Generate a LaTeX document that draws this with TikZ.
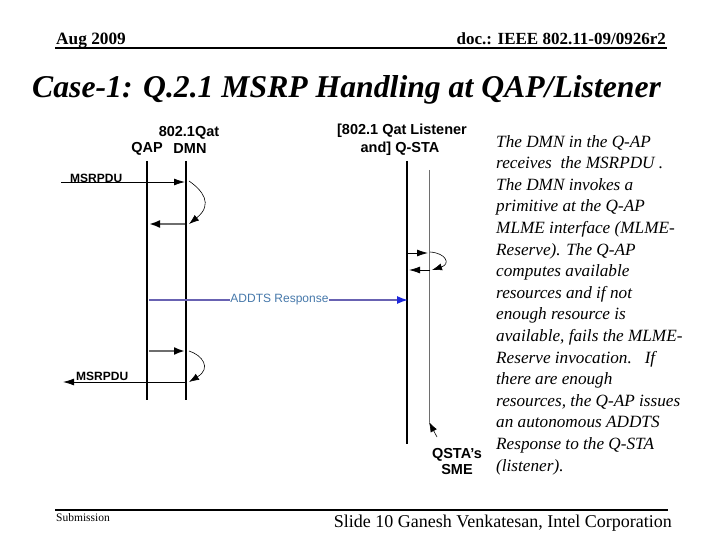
\documentclass[tikz,border=0pt]{standalone}
\usepackage{fontspec}
\setmainfont{Liberation Serif}
\newfontfamily\arialf{Liberation Sans}
\usetikzlibrary{arrows.meta}
\definecolor{addtsline}{RGB}{104,98,178}
\definecolor{addtstext}{RGB}{70,120,170}
\definecolor{addtshead}{RGB}{30,40,220}
\definecolor{msggray}{RGB}{110,110,110}
\tikzset{
  lbl/.style={font=\arialf\bfseries\fontsize{14.5}{15.5}\selectfont, inner sep=0pt, align=center},
  msglbl/.style={font=\arialf\bfseries\fontsize{12}{13}\selectfont, inner sep=0pt, anchor=south west},
  lifethin/.style={line width=1.2pt},
  lifethick/.style={line width=2.4pt},
  lifegray/.style={line width=1pt, draw=msggray},
  msg/.style={line width=0.8pt, -{Latex[length=11pt,width=7pt]}},
  msgg/.style={line width=2pt, draw=msggray, -{Latex[length=11pt,width=8pt,color=black,fill=black]}},
  loop/.style={line width=0.6pt, -{Latex[length=10pt,width=7pt]}},
  body/.style={font=\itshape\fontsize{17.2}{21.6}\selectfont, align=left, inner sep=0pt, anchor=north west},
}
\begin{document}
\begin{tikzpicture}[x=1pt,y=-1pt]
\useasboundingbox (0,0) rectangle (720,540);
% header
\node[anchor=base west, inner sep=0pt, font=\bfseries\fontsize{17.3}{18}\selectfont] (date) at (56,45) {Aug 2009};
\node[anchor=base east, inner sep=0pt, font=\bfseries\fontsize{17}{18}\selectfont] (doc) at (666,45) {doc.: IEEE 802.11-09/0926r2};
\coordinate (hl) at (55,48.5); \coordinate (hr) at (667,48.5);
\draw[line width=2pt] (hl) -- (hr);
\node[anchor=base west, inner sep=0pt, font=\bfseries\itshape\fontsize{31.7}{33}\selectfont] (title) at (32,98) {Case-1: Q.2.1 MSRP Handling at QAP/Listener};
% footer
\coordinate (fl) at (55,510); \coordinate (fr) at (668,510);
\draw[line width=1.6pt] (fl) -- (fr);
\node[anchor=base west, inner sep=0pt, font=\fontsize{11.5}{12}\selectfont] (sub) at (56,521) {Submission};
\node[anchor=base east, inner sep=0pt, font=\fontsize{18}{20}\selectfont] (slide) at (672,527) {Slide 10 Ganesh Venkatesan, Intel Corporation};
% lifeline labels
\node[lbl] (qat) at (189,133) {802.1Qat};
\node[lbl] (qapl) at (147,149) {QAP};
\node[lbl] (dmnl) at (190,149) {DMN};
\node[lbl] (lis) at (402,131) {[802.1 Qat Listener};
\node[lbl] (qsta) at (400,149) {and] Q-STA};
% lifelines
\coordinate (qapT) at (147,161); \coordinate (qapB) at (147,400);
\coordinate (dmnT) at (186,161); \coordinate (dmnB) at (186,400);
\coordinate (staT) at (407,161); \coordinate (staB) at (407,444);
\coordinate (smeT) at (429,170); \coordinate (smeB) at (429,422);
\draw[lifethin] (qapT) -- (qapB);
\draw[lifethick] (dmnT) -- (dmnB);
\draw[lifethin] (staT) -- (staB);
\draw[lifegray] (smeT) -- (smeB);
% top MSRPDU
\coordinate (m1s) at (61,182); \coordinate (m1e) at (185,182);
\draw[msg] (m1s) -- (m1e);
\node[msglbl] (m1l) at (70,182.5) {MSRPDU};
\coordinate (c1s) at (189,181); \coordinate (c1e) at (189,224);
\draw[loop] (c1s) .. controls (202,190) and (214,204) .. (c1e);
\coordinate (g1s) at (185,224); \coordinate (g1e) at (149,224);
\draw[msgg] (g1s) -- (g1e);
% Q-STA side
\coordinate (s1s) at (408,253); \coordinate (s1e) at (428,253);
\draw[msg] (s1s) -- (s1e);
\coordinate (c2s) at (430,252); \coordinate (c2e) at (432,270);
\draw[loop] (c2s) .. controls (446,253) and (451,264) .. (c2e);
\coordinate (s2s) at (430,270); \coordinate (s2e) at (409,270);
\draw[msg] (s2s) -- (s2e);
% ADDTS response
\node[font=\arialf\fontsize{12}{13}\selectfont, text=addtstext, inner sep=0pt] (addts) at (279.5,300) {ADDTS Response};
\coordinate (a1) at (149,300); \coordinate (a2) at (408,300);
\draw[line width=1.3pt, draw=addtsline] (a1) -- (addts.west);
\draw[line width=1.3pt, draw=addtsline, -{Latex[length=11pt,width=8pt,color=addtshead,fill=addtshead]}] (addts.east) -- (a2);
% lower left
\coordinate (g2s) at (149,351); \coordinate (g2e) at (185,351);
\draw[msgg] (g2s) -- (g2e);
\coordinate (c3s) at (189,351); \coordinate (c3e) at (189,382);
\draw[loop] (c3s) .. controls (202,355) and (212,368) .. (c3e);
\coordinate (m2s) at (186,382); \coordinate (m2e) at (63,382);
\draw[msg] (m2s) -- (m2e);
\node[msglbl] (m2l) at (76,381) {MSRPDU};
% QSTA's SME
\node[lbl] (sme) at (457,461.5) {QSTA’s\\[1pt]SME};
\coordinate (smeA) at (437,437);
\draw[loop] (smeA) -- (smeB);
% body text
\node[body] (txt) at (496,135) {The DMN in the Q-AP\\
receives\ \ the MSRPDU .\\
The DMN invokes a\\
primitive at the Q-AP\\
MLME interface (MLME-\\
Reserve). The Q-AP\\
computes available\\
resources and if not\\
enough resource is\\
available, fails the MLME-\\
Reserve invocation.\ \ \ If\\
there are enough\\
resources, the Q-AP issues\\
an autonomous ADDTS\\
Response to the Q-STA\\
(listener).};
\end{tikzpicture}
\end{document}
